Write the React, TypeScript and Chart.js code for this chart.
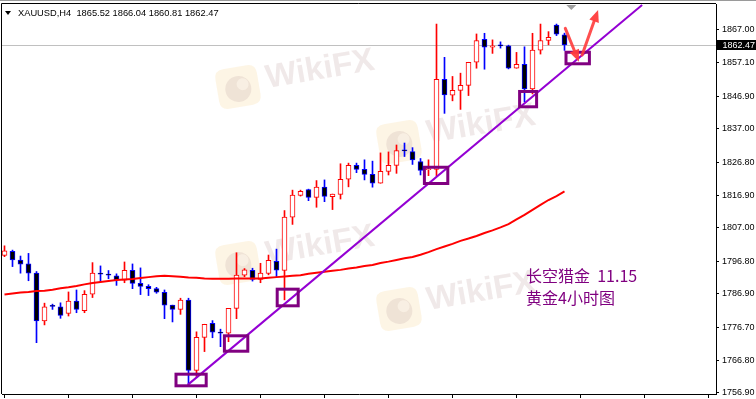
import React, { useEffect, useRef } from "react";
import { Chart, registerables } from "chart.js";

Chart.register(...registerables);

// ---- data (XAUUSD H4) ----
const OPEN = [1798.6, 1799.8, 1797.2, 1796.0, 1793.2, 1778.7, 1783.2, 1783.0, 1781.0, 1784.7, 1781.8, 1786.8, 1793.2, 1792.7, 1792.4, 1791.1, 1794.1, 1790.1, 1789.2, 1788.5, 1787.4, 1783.5, 1782.2, 1785.0, 1763.7, 1773.7, 1778.0, 1775.1, 1775.0, 1782.5, 1792.6, 1794.1, 1791.3, 1793.1, 1796.8, 1794.0, 1810.2, 1816.8, 1818.6, 1816.2, 1819.3, 1816.4, 1817.1, 1821.7, 1825.9, 1824.7, 1823.2, 1820.5, 1824.1, 1825.9, 1830.4, 1830.1, 1827.1, 1824.6, 1824.7, 1852.0, 1847.2, 1848.7, 1850.2, 1857.2, 1864.2, 1861.8, 1862.3, 1862.2, 1855.4, 1856.6, 1849.1, 1860.9, 1863.8, 1868.5, 1865.52];
const HIGH = [1801.5, 1800.2, 1798.4, 1799.2, 1793.7, 1784.1, 1783.8, 1784.2, 1787.5, 1788.1, 1787.9, 1796.4, 1795.4, 1794.0, 1793.0, 1796.6, 1796.0, 1794.8, 1789.7, 1788.9, 1788.1, 1783.5, 1785.6, 1785.6, 1775.4, 1777.7, 1778.8, 1776.2, 1782.5, 1799.4, 1794.6, 1794.7, 1796.2, 1798.7, 1800.5, 1812.2, 1818.4, 1818.4, 1818.7, 1821.3, 1821.5, 1817.2, 1826.4, 1826.6, 1826.6, 1827.6, 1827.2, 1829.7, 1830.0, 1832.1, 1832.7, 1831.3, 1828.0, 1827.6, 1868.8, 1858.7, 1852.9, 1853.9, 1857.2, 1865.8, 1866.0, 1864.0, 1863.4, 1862.4, 1860.2, 1861.9, 1866.0, 1868.8, 1866.5, 1868.8, 1866.04];
const LOW = [1798.2, 1795.2, 1793.2, 1790.9, 1772.1, 1777.5, 1782.2, 1779.5, 1780.2, 1781.2, 1781.2, 1785.8, 1790.6, 1791.5, 1789.5, 1790.3, 1788.5, 1786.7, 1786.4, 1787.1, 1779.4, 1778.4, 1780.7, 1759.3, 1761.8, 1769.4, 1773.6, 1770.9, 1772.4, 1779.4, 1792.1, 1790.8, 1790.3, 1792.7, 1792.0, 1785.1, 1808.0, 1816.6, 1815.2, 1813.2, 1814.9, 1812.5, 1815.7, 1819.4, 1823.7, 1821.5, 1819.3, 1820.5, 1823.0, 1823.5, 1828.6, 1826.2, 1823.0, 1822.8, 1822.7, 1841.7, 1845.5, 1842.9, 1847.1, 1855.4, 1855.1, 1859.9, 1861.5, 1855.2, 1855.4, 1845.2, 1847.6, 1859.7, 1862.5, 1865.3, 1860.81];
const CLOSE = [1800.0, 1797.2, 1795.9, 1793.2, 1778.7, 1783.0, 1783.1, 1780.4, 1784.7, 1782.2, 1786.8, 1793.2, 1792.9, 1792.6, 1791.2, 1794.1, 1790.1, 1789.2, 1788.5, 1787.4, 1783.5, 1782.2, 1785.0, 1763.7, 1773.7, 1777.7, 1775.3, 1775.0, 1782.5, 1792.6, 1794.2, 1791.3, 1793.2, 1797.1, 1794.1, 1810.2, 1816.9, 1818.0, 1816.2, 1819.3, 1816.5, 1817.2, 1821.7, 1825.9, 1824.7, 1823.2, 1820.5, 1824.1, 1825.9, 1830.4, 1830.3, 1827.6, 1824.4, 1824.7, 1852.0, 1847.3, 1848.7, 1850.2, 1857.2, 1863.8, 1861.8, 1862.2, 1862.2, 1855.4, 1856.6, 1849.1, 1860.9, 1863.8, 1864.8, 1865.7, 1862.47];
const MA = [1786.7, 1787.0, 1787.3, 1787.5, 1787.8, 1787.9, 1788.2, 1788.6, 1788.9, 1789.3, 1789.8, 1790.2, 1790.5, 1790.8, 1791.1, 1791.3, 1791.4, 1791.7, 1792.0, 1792.3, 1792.4, 1792.3, 1792.1, 1791.9, 1791.8, 1791.6, 1791.5, 1791.5, 1791.5, 1791.6, 1791.6, 1791.6, 1791.6, 1791.8, 1792.0, 1792.2, 1792.4, 1792.6, 1793.0, 1793.3, 1793.6, 1793.9, 1794.2, 1794.6, 1794.9, 1795.4, 1795.7, 1796.3, 1796.7, 1797.2, 1797.7, 1798.1, 1798.8, 1799.6, 1800.5, 1801.3, 1802.1, 1803.0, 1803.7, 1804.5, 1805.4, 1806.2, 1807.1, 1808.1, 1809.5, 1810.9, 1812.4, 1813.9, 1815.4, 1816.6, 1818.0];

const Y_TICKS = [1867.0, 1857.1, 1846.9, 1837.0, 1826.8, 1816.9, 1807.0, 1796.8, 1786.9, 1776.7, 1766.8, 1756.9];
const X_TICKS = [0, 8, 16, 24, 32, 40, 48, 56, 64, 72, 80, 88];
const LAST_PRICE = 1862.47;

// trend line (candle index, price)
const TREND_X = [22.9, 79.7];
const TREND_Y = [1759.3, 1874.6];

// marked boxes: index range and price range
const BOX_X0 = [21.25, 27.3, 33.9, 52.3, 64.2, 70.0];
const BOX_X1 = [25.4, 30.6, 36.9, 55.6, 66.7, 73.3];
const BOX_HI = [1763.0, 1774.65, 1788.8, 1825.8, 1848.8, 1860.7];
const BOX_LO = [1758.56, 1769.06, 1782.84, 1819.96, 1843.24, 1856.29];

// arrows: start (index, price) -> end (index, price)
const ARROW_X0 = [70.1, 72.2];
const ARROW_Y0 = [1867.5, 1859.4];
const ARROW_X1 = [71.8, 74.2];
const ARROW_Y1 = [1857.4, 1873.1];

const TITLE = "XAUUSD,H4  1865.52 1866.04 1860.81 1862.47";
const NOTE_1 = "长空猎金  11.15";
const NOTE_2 = "黄金4小时图";

const X_MIN = -0.3125;
const X_MAX = 88.9375;
const Y_MIN = 1756.53;
const Y_MAX = 1874.89;

const FONT = '"Liberation Sans", Arial, sans-serif';

function roundRect(ctx: CanvasRenderingContext2D, x: number, y: number, w: number, h: number, r: number) {
  ctx.beginPath();
  ctx.moveTo(x + r, y);
  ctx.lineTo(x + w - r, y);
  ctx.quadraticCurveTo(x + w, y, x + w, y + r);
  ctx.lineTo(x + w, y + h - r);
  ctx.quadraticCurveTo(x + w, y + h, x + w - r, y + h);
  ctx.lineTo(x + r, y + h);
  ctx.quadraticCurveTo(x, y + h, x, y + h - r);
  ctx.lineTo(x, y + r);
  ctx.quadraticCurveTo(x, y, x + r, y);
  ctx.closePath();
}

function drawWatermark(ctx: CanvasRenderingContext2D, cx: number, cy: number) {
  ctx.save();
  ctx.translate(cx, cy);
  ctx.rotate(-0.17);
  roundRect(ctx, -21, -20, 42, 40, 9);
  ctx.fillStyle = "rgba(250,222,170,0.30)";
  ctx.fill();
  ctx.fillStyle = "rgba(205,180,175,0.28)";
  ctx.beginPath();
  ctx.arc(0, 2, 13, 0, Math.PI * 2);
  ctx.fill();
  ctx.fillStyle = "rgba(252,244,232,0.7)";
  ctx.beginPath();
  ctx.arc(5, -2, 6, 0, Math.PI * 2);
  ctx.fill();
  ctx.font = "bold 33px " + FONT;
  ctx.fillStyle = "rgba(210,190,190,0.34)";
  ctx.textBaseline = "middle";
  ctx.textAlign = "left";
  ctx.fillText("WikiFX", 29, -3);
  ctx.restore();
}

function drawArrow(ctx: CanvasRenderingContext2D, x0: number, y0: number, x1: number, y1: number) {
  const ang = Math.atan2(y1 - y0, x1 - x0);
  const headLen = 12;
  const headW = 5;
  const bx = x1 - headLen * Math.cos(ang);
  const by = y1 - headLen * Math.sin(ang);
  ctx.save();
  ctx.strokeStyle = "rgba(255,60,60,0.9)";
  ctx.fillStyle = "rgba(255,60,60,0.95)";
  ctx.lineWidth = 3;
  ctx.lineCap = "round";
  ctx.beginPath();
  ctx.moveTo(x0, y0);
  ctx.lineTo(bx, by);
  ctx.stroke();
  ctx.beginPath();
  ctx.moveTo(x1, y1);
  ctx.lineTo(bx + headW * Math.sin(ang), by - headW * Math.cos(ang));
  ctx.lineTo(bx - headW * Math.sin(ang), by + headW * Math.cos(ang));
  ctx.closePath();
  ctx.fill();
  ctx.restore();
}

export default function App() {
  const ref = useRef<HTMLCanvasElement>(null);

  useEffect(() => {
    document.body.style.margin = "0";
    const canvas = ref.current;
    if (!canvas) return;
    const idx = OPEN.map((_, i) => i);
    const bull = idx.map((i) => CLOSE[i] > OPEN[i]);

    const overlay = {
      id: "overlay",
      beforeDraw(chart: any) {
        const ctx = chart.ctx as CanvasRenderingContext2D;
        ctx.save();
        ctx.fillStyle = "#ffffff";
        ctx.fillRect(0, 0, chart.width, chart.height);
        ctx.restore();
      },
      beforeDatasetsDraw(chart: any) {
        const ctx = chart.ctx as CanvasRenderingContext2D;
        const a = chart.chartArea;
        const ys = chart.scales.y;
        ctx.save();
        ctx.beginPath();
        ctx.rect(a.left, a.top, a.right - a.left, a.bottom - a.top);
        ctx.clip();
        const WM = [
          [238, 87],
          [399, 142],
          [238, 263],
          [399, 309],
        ];
        WM.forEach(([x, y]) => drawWatermark(ctx, x, y));
        // current price line
        const py = Math.round(ys.getPixelForValue(LAST_PRICE)) + 0.5;
        ctx.strokeStyle = "#c0c0c0";
        ctx.lineWidth = 1;
        ctx.beginPath();
        ctx.moveTo(a.left, py);
        ctx.lineTo(a.right, py);
        ctx.stroke();
        ctx.restore();
      },
      afterDatasetsDraw(chart: any) {
        const ctx = chart.ctx as CanvasRenderingContext2D;
        const a = chart.chartArea;
        const xs = chart.scales.x;
        const ys = chart.scales.y;
        ctx.save();
        ctx.beginPath();
        ctx.rect(a.left, a.top, a.right - a.left, a.bottom - a.top);
        ctx.clip();
        // boxes
        ctx.strokeStyle = "#800080";
        ctx.lineWidth = 3;
        BOX_X0.forEach((_, k) => {
          const l = xs.getPixelForValue(BOX_X0[k]);
          const r = xs.getPixelForValue(BOX_X1[k]);
          const t = ys.getPixelForValue(BOX_HI[k]);
          const b = ys.getPixelForValue(BOX_LO[k]);
          ctx.strokeRect(l + 1.5, t + 1.5, r - l - 3, b - t - 3);
        });
        // arrows
        ARROW_X0.forEach((_, k) => {
          drawArrow(
            ctx,
            xs.getPixelForValue(ARROW_X0[k]),
            ys.getPixelForValue(ARROW_Y0[k]),
            xs.getPixelForValue(ARROW_X1[k]),
            ys.getPixelForValue(ARROW_Y1[k])
          );
        });
        // notes
        ctx.fillStyle = "#800080";
        ctx.font = '16px "Noto Sans CJK SC", sans-serif';
        ctx.textBaseline = "middle";
        ctx.textAlign = "left";
        ctx.fillText(NOTE_1, 526, 276);
        ctx.fillText(NOTE_2, 526, 298);
        // shift marker triangle
        const tx = xs.getPixelForValue(70.85);
        ctx.fillStyle = "#a0a0a0";
        ctx.beginPath();
        ctx.moveTo(tx - 5, a.top + 1);
        ctx.lineTo(tx + 5, a.top + 1);
        ctx.lineTo(tx, a.top + 6);
        ctx.closePath();
        ctx.fill();
        ctx.restore();
      },
      afterDraw(chart: any) {
        const ctx = chart.ctx as CanvasRenderingContext2D;
        const a = chart.chartArea;
        const ys = chart.scales.y;
        ctx.save();
        // window top line
        ctx.fillStyle = "#9a9a9a";
        ctx.fillRect(0, 0, chart.width, 1);
        // frame
        ctx.strokeStyle = "#000000";
        ctx.lineWidth = 1;
        ctx.beginPath();
        ctx.moveTo(a.left - 0.5, a.bottom);
        ctx.lineTo(a.left - 0.5, a.top - 0.5);
        ctx.lineTo(a.right, a.top - 0.5);
        ctx.stroke();
        // title
        ctx.fillStyle = "#000000";
        ctx.beginPath();
        ctx.moveTo(5, 11);
        ctx.lineTo(11, 11);
        ctx.lineTo(8, 15);
        ctx.closePath();
        ctx.fill();
        ctx.font = "9.3px " + FONT;
        ctx.textBaseline = "middle";
        ctx.textAlign = "left";
        ctx.fillText(TITLE, 18, 13.5);
        // price label
        const py = ys.getPixelForValue(LAST_PRICE);
        ctx.fillStyle = "#000000";
        ctx.fillRect(a.right + 1, Math.round(py) - 5, chart.width - a.right - 1, 10);
        ctx.fillStyle = "#ffffff";
        ctx.font = "9px " + FONT;
        ctx.fillText(LAST_PRICE.toFixed(2), 722.5, py + 0.5);
        ctx.restore();
      },
    };

    const chart = new Chart(canvas, {
      type: "bar",
      data: {
        datasets: [
          {
            type: "line",
            label: "trend",
            data: TREND_X.map((x, k) => ({ x, y: TREND_Y[k] })),
            borderColor: "#9400D3",
            borderWidth: 2,
            pointRadius: 0,
            order: 0,
          } as any,
          {
            type: "line",
            label: "MA",
            data: idx.map((i) => ({ x: i, y: MA[i] })),
            borderColor: "#FF0000",
            borderWidth: 2,
            pointRadius: 0,
            tension: 0,
            order: 1,
          } as any,
          {
            type: "bar",
            label: "body",
            data: idx.map((i) => ({ x: i, y: [OPEN[i], CLOSE[i]] })),
            backgroundColor: idx.map((i) => (bull[i] ? "#FFFFFF" : "#000000")),
            borderColor: idx.map((i) => (bull[i] ? "#FF0000" : "#0000FF")),
            borderWidth: 1,
            borderSkipped: false,
            barThickness: 5,
            minBarLength: 1,
            grouped: false,
            order: 2,
          } as any,
          {
            type: "bar",
            label: "wick",
            data: idx.map((i) => ({ x: i, y: [LOW[i], HIGH[i]] })),
            backgroundColor: idx.map((i) => (bull[i] ? "#FF0000" : "#0000FF")),
            borderWidth: 0,
            barThickness: 1,
            grouped: false,
            order: 3,
          } as any,
        ],
      },
      options: {
        responsive: false,
        devicePixelRatio: 1,
        animation: false,
        events: [],
        layout: { padding: { left: 2, top: 4, right: 0, bottom: 0 } },
        plugins: { legend: { display: false }, tooltip: { enabled: false } },
        scales: {
          x: {
            type: "linear",
            min: X_MIN,
            max: X_MAX,
            offset: false,
            position: "bottom",
            afterBuildTicks: (s: any) => {
              s.ticks = X_TICKS.map((v) => ({ value: v }));
            },
            afterFit: (s: any) => {
              s.height = 5;
              s.paddingLeft = 0;
              s.paddingRight = 0;
            },
            ticks: { display: false },
            grid: { offset: false, drawOnChartArea: false, drawTicks: true, tickLength: 4, tickColor: "#000000", color: "#000000" },
            border: { display: true, color: "#000000", width: 1 },
          },
          y: {
            type: "linear",
            position: "right",
            min: Y_MIN,
            max: Y_MAX,
            afterBuildTicks: (s: any) => {
              s.ticks = Y_TICKS.map((v) => ({ value: v }));
            },
            afterFit: (s: any) => {
              s.width = 40;
              s.paddingTop = 0;
              s.paddingBottom = 0;
            },
            ticks: {
              color: "#000000",
              padding: 3,
              font: { family: FONT, size: 9 },
              callback: (v: any) => Number(v).toFixed(2),
            },
            grid: { offset: false, drawOnChartArea: false, drawTicks: true, tickLength: 3, tickColor: "#000000", color: "#000000" },
            border: { display: true, color: "#000000", width: 1 },
          },
        },
      } as any,
      plugins: [overlay],
    });

    return () => chart.destroy();
  }, []);

  return <canvas ref={ref} width={756} height={399} style={{ display: "block", width: 756, height: 399 }} />;
}
